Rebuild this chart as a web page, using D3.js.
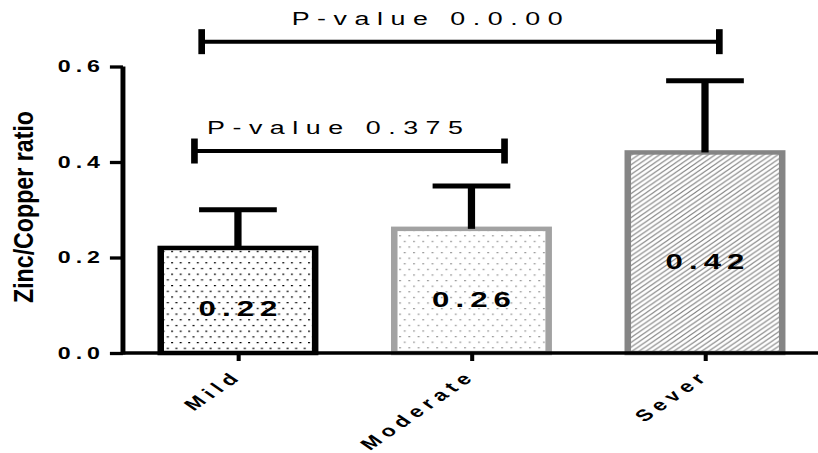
<!DOCTYPE html>
<html>
<head>
<meta charset="utf-8">
<script src="https://cdn.jsdelivr.net/npm/d3@7"></script>
<style>
  body { margin: 0; background: #fff; }
  svg { display: block; }
</style>
</head>
<body>
<script>
// Zinc/Copper ratio by severity group (mean + SD)
const categories = ["Mild", "Moderate", "Sever"];
const means = [0.22, 0.26, 0.42];
const sds = [0.08, 0.09, 0.15];
const yTicks = [0.0, 0.2, 0.4, 0.6];

// Pairwise comparisons drawn as brackets above the bars
const pairFrom = ["Mild", "Mild"];
const pairTo = ["Moderate", "Sever"];
const pairLabels = ["P-value 0.375", "P-value 0.0.00"];
const pairLevels = [0.423, 0.652];

const WIDTH = 818, HEIGHT = 453;
const SX = 1.45;                    // horizontal stretch of the whole drawing
const W = WIDTH / SX;               // inner drawing width
const FONT = "'Liberation Sans', Arial, Helvetica, sans-serif";

const svg = d3.select("body").append("svg")
  .attr("width", WIDTH).attr("height", HEIGHT);

const g = svg.append("g").attr("transform", `scale(${SX},1)`);

const axisX = 84.8;
const x = d3.scalePoint().domain(categories).range([164.1, 486.2]);
const y = d3.scaleLinear().domain([0, 0.6]).range([353, 66.5]);

// Fill patterns
const defs = svg.append("defs");
function dots(id, color, w, h) {
  const p = defs.append("pattern").attr("id", id)
    .attr("patternUnits", "userSpaceOnUse")
    .attr("width", w).attr("height", h * 2);
  p.append("rect").attr("x", 0).attr("y", 0).attr("width", 1.4).attr("height", 1.2).attr("fill", color);
  p.append("rect").attr("x", w / 2).attr("y", h).attr("width", 1.4).attr("height", 1.2).attr("fill", color);
}
dots("dotsDark", "#000", 5.9, 5.7);
dots("dotsLight", "#9c9c9c", 6.4, 5.6);
{
  const s = 4.8;
  const p = defs.append("pattern").attr("id", "hatch")
    .attr("patternUnits", "userSpaceOnUse")
    .attr("width", s).attr("height", s);
  p.append("path")
    .attr("d", `M-1,1 L1,-1 M0,${s} L${s},0 M${s - 1},${s + 1} L${s + 1},${s - 1}`)
    .attr("stroke", "#808080").attr("stroke-width", 0.9);
}
const fills = ["url(#dotsDark)", "url(#dotsLight)", "url(#hatch)"];
const strokes = ["#000000", "#a2a2a2", "#858585"];

const data = categories.map((c, i) => ({ c, m: means[i], sd: sds[i], i }));
const bw = 106.5;

// Bars
g.selectAll("rect.bar").data(data).join("rect")
  .attr("class", "bar")
  .attr("x", d => x(d.c) - bw / 2)
  .attr("y", d => y(d.m))
  .attr("width", bw)
  .attr("height", d => y(0) - y(d.m))
  .attr("fill", d => fills[d.i])
  .attr("stroke", d => strokes[d.i])
  .attr("stroke-width", 4.5);

// Error bars (upper only)
const capHalf = 26.8;
const eb = g.selectAll("g.err").data(data).join("g").attr("class", "err")
  .attr("stroke", "#000").attr("stroke-width", 5);
eb.append("line")
  .attr("x1", d => x(d.c)).attr("x2", d => x(d.c))
  .attr("y1", d => y(d.m)).attr("y2", d => y(d.m + d.sd));
eb.append("line")
  .attr("x1", d => x(d.c) - capHalf).attr("x2", d => x(d.c) + capHalf)
  .attr("y1", d => y(d.m + d.sd)).attr("y2", d => y(d.m + d.sd));

// Value labels inside bars
const vls = 4.2;
g.selectAll("text.val").data(data).join("text")
  .attr("class", "val")
  .attr("x", d => x(d.c) + vls / 2)
  .attr("y", d => y(d.m / 2) + 16)
  .attr("text-anchor", "middle")
  .attr("font-family", FONT).attr("font-weight", "bold")
  .attr("font-size", 21.5).attr("letter-spacing", vls)
  .text(d => d.m.toFixed(2));

// Y axis
const yAxisG = g.append("g").attr("transform", `translate(${axisX},0)`)
  .call(d3.axisLeft(y).tickValues(yTicks).tickFormat(d3.format(".1f"))
    .tickSize(9).tickSizeOuter(0).tickPadding(3.5));
yAxisG.select(".domain").attr("stroke", "#000").attr("stroke-width", 3.4)
  .attr("d", `M0,${y(0) + 1.6}V${y(0.6)}`);
yAxisG.selectAll(".tick line").attr("stroke", "#000").attr("stroke-width", 3.3);
yAxisG.selectAll(".tick text")
  .attr("font-family", FONT).attr("font-weight", "bold")
  .attr("font-size", 16).attr("letter-spacing", 3.4)
  .attr("fill", "#000");

// X axis
g.append("line")
  .attr("x1", axisX).attr("x2", W)
  .attr("y1", y(0)).attr("y2", y(0))
  .attr("stroke", "#000").attr("stroke-width", 3.3);
const xAxisG = g.append("g").attr("transform", `translate(0,${y(0)})`)
  .call(d3.axisBottom(x).tickSize(8).tickSizeOuter(0).tickFormat(""));
xAxisG.select(".domain").remove();
xAxisG.selectAll(".tick line").attr("stroke", "#000").attr("stroke-width", 2.8);

// Rotated category labels
g.selectAll("text.cat").data(categories).join("text")
  .attr("class", "cat")
  .attr("transform", c => `translate(${x(c) + 4},${y(0) + 24}) rotate(-45)`)
  .attr("text-anchor", "end")
  .attr("font-family", FONT).attr("font-weight", "bold")
  .attr("font-size", 16).attr("letter-spacing", 4.2)
  .text(c => c);

// Y axis title
g.append("text")
  .attr("transform", `translate(22.8,207) rotate(-90)`)
  .attr("text-anchor", "middle")
  .attr("font-family", FONT).attr("font-weight", "bold")
  .attr("font-size", 19)
  .attr("textLength", 192).attr("lengthAdjust", "spacingAndGlyphs")
  .text("Zinc/Copper ratio");

// Comparison brackets
const leftShift = [-30, -25];
const rightShift = [22.8, 9.9];
const labelShift = [-10, -23];
const pls = 5.2;
pairLabels.forEach((lab, i) => {
  const x1 = x(pairFrom[i]) + leftShift[i];
  const x2 = x(pairTo[i]) + rightShift[i];
  const yy = y(pairLevels[i]);
  const br = g.append("g").attr("stroke", "#000");
  br.append("line").attr("x1", x1).attr("x2", x2).attr("y1", yy).attr("y2", yy)
    .attr("stroke-width", 4);
  [x1, x2].forEach(xx => br.append("line")
    .attr("x1", xx).attr("x2", xx).attr("y1", yy - 12.5).attr("y2", yy + 12.5)
    .attr("stroke-width", 4.6));
  g.append("text")
    .attr("x", (x1 + x2) / 2 + labelShift[i] + pls / 2)
    .attr("y", yy - 17)
    .attr("text-anchor", "middle")
    .attr("font-family", FONT).attr("font-size", 18.5)
    .attr("letter-spacing", pls)
    .text(lab);
});
</script>
</body>
</html>
